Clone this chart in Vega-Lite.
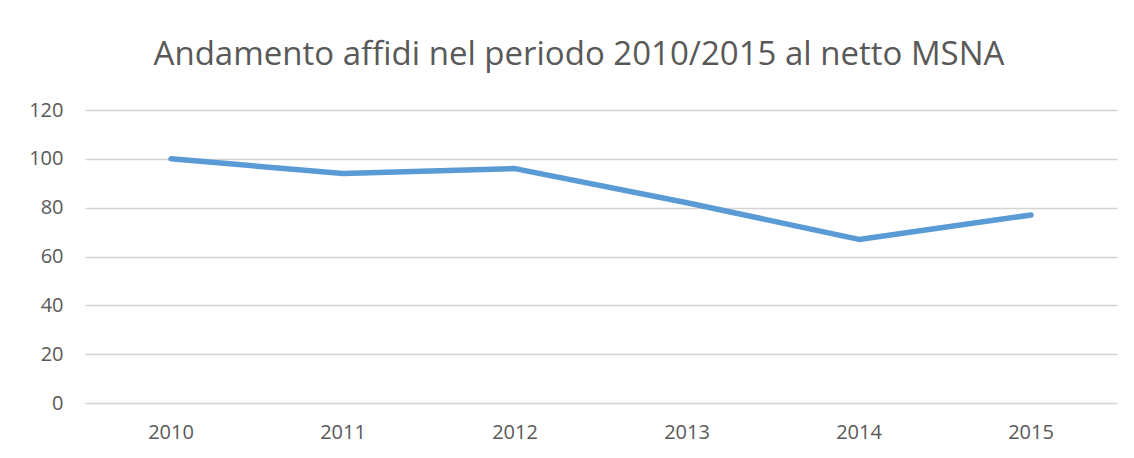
{
  "$schema": "https://vega.github.io/schema/vega-lite/v6.json",
  "width": 1032,
  "height": 293,
  "autosize": {"type": "none"},
  "padding": {"left": 85, "top": 110, "right": 17, "bottom": 55},
  "background": "white",
  "title": {
    "text": "Andamento affidi nel periodo 2010/2015 al netto MSNA",
    "font": "Open Sans",
    "fontSize": 33,
    "fontWeight": "normal",
    "color": "#595959",
    "anchor": "middle",
    "dx": -22,
    "offset": 28
  },
  "data": {
    "values": [
      {"anno": "2010", "valore": 100},
      {"anno": "2011", "valore": 94},
      {"anno": "2012", "valore": 96},
      {"anno": "2013", "valore": 82},
      {"anno": "2014", "valore": 67},
      {"anno": "2015", "valore": 77}
    ]
  },
  "mark": {"type": "line", "color": "#5B9BD5", "strokeWidth": 5.5, "strokeCap": "round", "strokeJoin": "round"},
  "encoding": {
    "x": {
      "field": "anno",
      "type": "ordinal",
      "scale": {"type": "band", "paddingInner": 0, "paddingOuter": 0},
      "axis": {
        "title": null,
        "labelAngle": 0,
        "domain": false,
        "ticks": false,
        "grid": false,
        "labelFont": "Open Sans",
        "labelFontSize": 20,
        "labelColor": "#595959",
        "labelPadding": 19
      }
    },
    "y": {
      "field": "valore",
      "type": "quantitative",
      "scale": {"domain": [0, 120], "nice": false},
      "axis": {
        "title": null,
        "values": [0, 20, 40, 60, 80, 100, 120],
        "domain": false,
        "ticks": false,
        "grid": true,
        "gridColor": "#D4D4D4",
        "gridWidth": 1.3,
        "labelFont": "Open Sans",
        "labelFontSize": 20,
        "labelColor": "#595959",
        "labelPadding": 22
      }
    }
  },
  "config": {"view": {"stroke": null}}
}
